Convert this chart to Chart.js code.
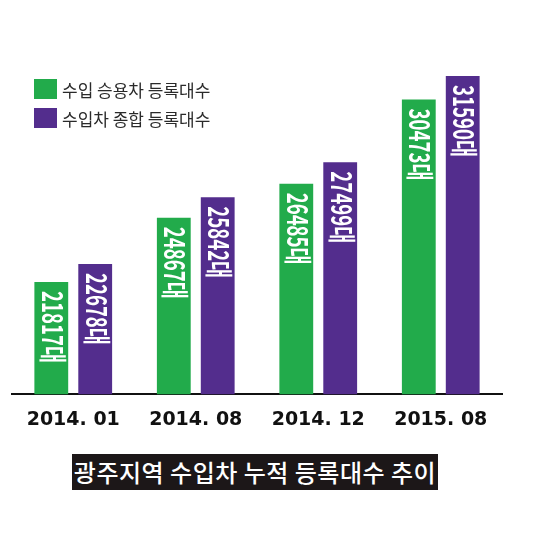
<!DOCTYPE html>
<html>
<head>
<meta charset="utf-8">
<script src="https://cdn.jsdelivr.net/npm/chart.js@4/dist/chart.umd.min.js"></script>
<style>
  html, body { margin: 0; padding: 0; background: #fff; }
  #wrap { position: relative; width: 550px; height: 536px; overflow: hidden; }
  #myChart { position: absolute; left: 0; top: 0; }
  #legend { position: absolute; left: 34px; top: 79px; font-family: "Noto Sans CJK KR", "Noto Sans", sans-serif; font-size: 17px; color: #2a2a2a; }
  #legend .item { display: flex; align-items: center; height: 20px; margin-bottom: 9px; }
  #legend .box { width: 23px; height: 20px; margin-right: 5px; }
  #title { position: absolute; left: 72px; top: 454px; width: 366px; height: 36px; background: #1c1718; color: #fff;
    font-family: "Noto Sans CJK KR", sans-serif; font-weight: 500; font-size: 24px; line-height: 36px; text-align: center; letter-spacing: 0.5px; }
</style>
</head>
<body>
<div id="wrap">
  <canvas id="myChart" width="550" height="536"></canvas>
  <div id="legend"></div>
  <div id="title">광주지역 수입차 누적 등록대수 추이</div>
</div>
<script>
const categories = ['2014. 01', '2014. 08', '2014. 12', '2015. 08'];
const seriesNames = ['수입 승용차 등록대수', '수입차 종합 등록대수'];
const passengerCars = [21817, 24867, 26485, 30473];
const allImports = [22678, 25842, 27499, 31590];
const seriesColors = ['#22ab4b', '#532d8d'];

// legend (html)
const legend = document.getElementById('legend');
seriesNames.forEach(function (name, i) {
    const item = document.createElement('div');
    item.className = 'item';
    item.innerHTML = '<span class="box" style="background:' + seriesColors[i] + '"></span><span>' + name + '</span>';
    legend.appendChild(item);
});

// white rotated numbers inside the bars
const barLabels = {
    id: 'barLabels',
    afterDatasetsDraw(chart) {
        const ctx = chart.ctx;
        chart.data.datasets.forEach(function (ds, di) {
            chart.getDatasetMeta(di).data.forEach(function (bar, i) {
                const text = ds.data[i] + '대';
                ctx.save();
                ctx.font = 'bold 28px "Liberation Sans Narrow", "Noto Sans CJK KR", sans-serif';
                const w = ctx.measureText(text).width;
                ctx.translate(bar.x + 1, bar.y + 9);
                ctx.rotate(Math.PI / 2);
                ctx.scale(72 / w, 1);
                ctx.fillStyle = '#fff';
                ctx.textAlign = 'left';
                ctx.textBaseline = 'middle';
                ctx.fillText(text, 0, 0);
                ctx.restore();
            });
        });
    }
};

const ctx = document.getElementById('myChart').getContext('2d');
const myChart = new Chart(ctx, {
    type: 'bar',
    data: {
        labels: categories,
        datasets: [{
            label: seriesNames[0],
            data: passengerCars,
            backgroundColor: seriesColors[0]
        }, {
            label: seriesNames[1],
            data: allImports,
            backgroundColor: seriesColors[1]
        }]
    },
    options: {
        responsive: false,
        animation: false,
        categoryPercentage: 0.717,
        barPercentage: 0.77,
        layout: { padding: { left: 12, right: 48, top: 40, bottom: 91 } },
        plugins: {
            legend: { display: false },
            tooltip: { enabled: false }
        },
        scales: {
            x: {
                grid: { display: false, drawTicks: false },
                border: { display: true, color: '#111', width: 2 },
                ticks: {
                    color: '#111',
                    padding: 14,
                    font: { family: '"DejaVu Sans"', weight: 'bold', size: 19 }
                }
            },
            y: {
                display: false,
                min: 16500,
                max: 33300
            }
        }
    },
    plugins: [barLabels]
});
</script>
</body>
</html>
